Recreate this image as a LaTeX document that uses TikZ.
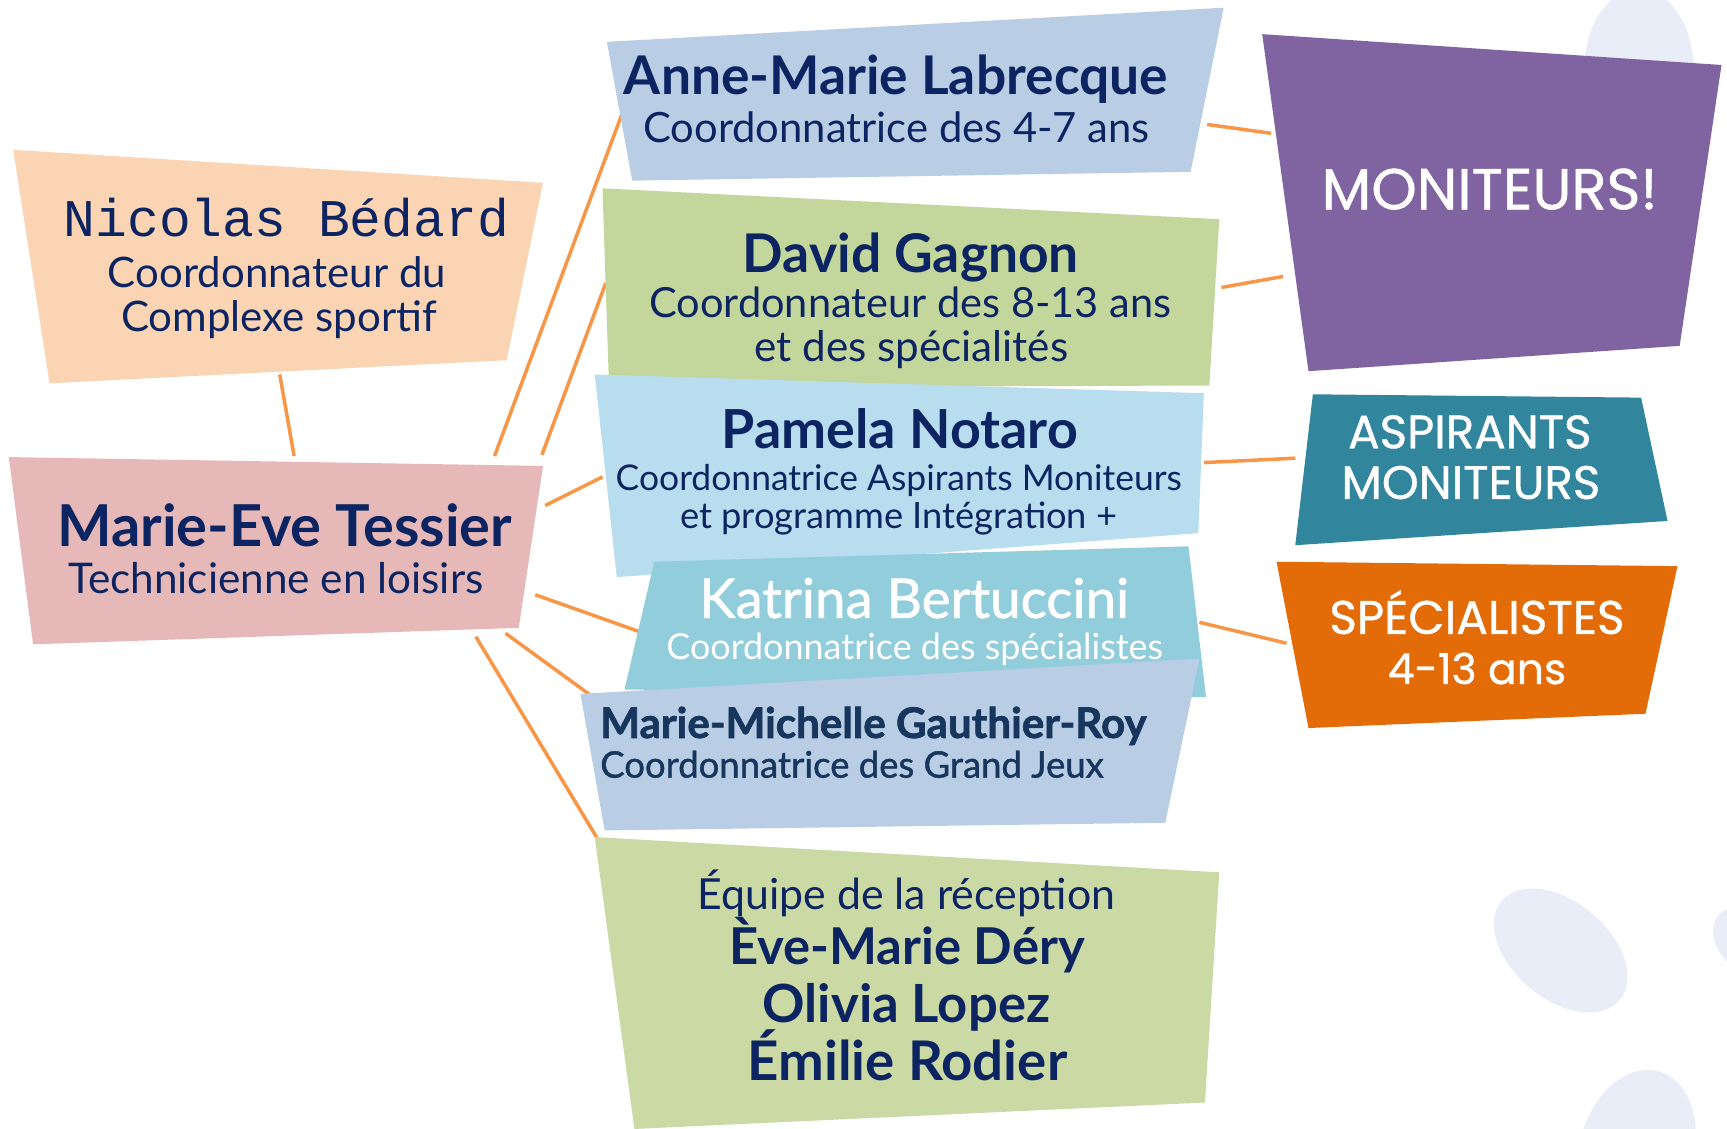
\documentclass[tikz,border=0pt]{standalone}
\usepackage{fontspec}
\setmainfont{Lato}
\newfontfamily\capsfont{Poppins}[UprightFeatures={FakeBold=0.8}]
\newfontfamily\monofont{Liberation Mono}
\newfontfamily\medfont{Lato}[UprightFeatures={FakeBold=1.2}]
\newfontfamily\heavyfont{Lato}[BoldFeatures={FakeBold=1.6}]
\usepackage{graphicx}
\newlength\pxu \setlength\pxu{0.02cm}
\newcommand\fitw[2]{\resizebox{#1\pxu}{!}{#2}}
\definecolor{navy}{HTML}{0C2461}
\definecolor{mmgtext}{HTML}{17365D}
\definecolor{peach}{HTML}{FBD4B4}
\definecolor{pinkc}{HTML}{E6B9B8}
\definecolor{paleblue}{HTML}{B9CDE5}
\definecolor{greenc}{HTML}{C3D69B}
\definecolor{greenl}{HTML}{CBD9A5}
\definecolor{skyc}{HTML}{B7DDEE}
\definecolor{aquac}{HTML}{92CDDC}
\definecolor{purplec}{HTML}{8064A2}
\definecolor{tealc}{HTML}{31859C}
\definecolor{orangec}{HTML}{E36C09}
\definecolor{connc}{HTML}{F79646}
\definecolor{blobc}{HTML}{E8EDF7}
\tikzset{
  conn/.style={draw=connc, line width=1.8pt},
  txt/.style={anchor=base, inner sep=0pt, outer sep=0pt, text=navy},
  ltxt/.style={anchor=base west, inner sep=0pt, outer sep=0pt, text=mmgtext},
  wtxt/.style={anchor=base, inner sep=0pt, outer sep=0pt, text=white},
  blob/.style={fill=blobc},
}
\begin{document}
\begin{tikzpicture}[x=0.02cm,y=-0.02cm]
\useasboundingbox (0,0) rectangle (1568,1025);
\fill[white] (0,0) rectangle (1568,1025);
% background blobs
\begin{scope}
\clip (0,0) rectangle (1568,1025);
\fill[blob] (1488,65) ellipse [x radius=50, y radius=75];
\fill[blob, rotate around={-40:(1417,863)}] (1417,863) ellipse [x radius=70, y radius=44];
\fill[blob, rotate around={-30:(1600,858)}] (1600,858) ellipse [x radius=48, y radius=32];
\fill[blob, rotate around={-15:(1486,1045)}] (1486,1045) ellipse [x radius=52, y radius=75];
\end{scope}

% connector end points
\coordinate (nb1) at (254,340);  \coordinate (me0) at (267,414);
\coordinate (me1) at (449,414);  \coordinate (am1) at (566,100);
\coordinate (me2) at (492,413);  \coordinate (dg1) at (550,257);
\coordinate (me3) at (495,459);  \coordinate (pn1) at (547,433);
\coordinate (me4) at (486,540);  \coordinate (kb1) at (582,574);
\coordinate (me5) at (459,575);  \coordinate (mm1) at (540,634);
\coordinate (me6) at (432,578);  \coordinate (eq1) at (550,774);
\coordinate (am2) at (1096,113); \coordinate (mo1) at (1154,121);
\coordinate (dg2) at (1109,261); \coordinate (mo2) at (1165,251);
\coordinate (pn2) at (1093,420); \coordinate (as1) at (1176,416);
\coordinate (kb2) at (1089,565); \coordinate (sp1) at (1168,584);

\draw[conn] (nb1) -- (me0);
\draw[conn] (me1) -- (am1);
\draw[conn] (me2) -- (dg1);
\draw[conn] (me3) -- (pn1);
\draw[conn] (me4) -- (kb1);
\draw[conn] (me5) -- (mm1);
\draw[conn] (me6) -- (eq1);
\draw[conn] (am2) -- (mo1);
\draw[conn] (dg2) -- (mo2);
\draw[conn] (pn2) -- (as1);
\draw[conn] (kb2) -- (sp1);

% boxes
\fill[peach] (12,136) -- (493,166) -- (460,327) -- (45,348) -- cycle;
\fill[pinkc] (8,415) -- (493,423) -- (471,570) -- (30,585) -- cycle;
\fill[paleblue] (551,38) -- (1111,7) -- (1081,156) -- (574,164) -- cycle;
\fill[greenc] (547,171) -- (1107,199) -- (1098,350) -- (553,352) -- cycle;
\fill[skyc] (540,340) -- (1093,357) -- (1088,484) -- (560,524) -- cycle;
\fill[aquac] (594,510) -- (1079,496) -- (1095,633) -- (567,626) -- cycle;
\fill[paleblue] (527,630) -- (1089,598) -- (1058,747) -- (549,754) -- cycle;
\fill[greenl] (540,760) -- (1107,792) -- (1094,1001) -- (576,1025) -- cycle;
\fill[purplec] (1146,31) -- (1563,59) -- (1525,314) -- (1188,337) -- cycle;
\fill[tealc] (1192,358) -- (1490,361) -- (1514,473) -- (1176,495) -- cycle;
\fill[orangec] (1159,510) -- (1523,514) -- (1494,648) -- (1188,661) -- cycle;

% texts
\node[txt] (nbname) at (260,215) {\fitw{404}{\monofont Nicolas Bédard}};
\node[txt] (nbrole1) at (251.5,261) {\fitw{307}{Coordonnateur du}};
\node[txt] (nbrole2) at (253.5,301) {\fitw{287}{Complexe sportif}};

\node[txt] (mename) at (258.5,496) {\fitw{413}{\bfseries Marie-Eve Tessier}};
\node[txt] (merole) at (250.5,539) {\fitw{377}{Technicienne en loisirs}};

\node[txt] (amname) at (813.5,86) {\fitw{494}{\bfseries Anne-Marie Labrecque}};
\node[txt] (amrole) at (814,129) {\fitw{460}{Coordonnatrice des 4-7 ans}};

\node[txt] (dgname) at (827,247) {\fitw{305}{\bfseries David Gagnon}};
\node[txt] (dgrole1) at (826.5,288) {\fitw{474}{Coordonnateur des 8-13 ans}};
\node[txt] (dgrole2) at (827.5,328) {\fitw{285}{et des spécialités}};

\node[txt] (pnname) at (817,407) {\fitw{323}{\bfseries Pamela Notaro}};
\node[txt] (pnrole1) at (816,445) {\fitw{514}{Coordonnatrice Aspirants Moniteurs}};
\node[txt] (pnrole2) at (816,480) {\fitw{397}{et programme Intégration +}};

\node[wtxt] (kbname) at (830,561) {\fitw{390}{\medfont Katrina Bertuccini}};
\node[wtxt] (kbrole) at (830.5,599) {\fitw{451}{Coordonnatrice des spécialistes}};

\node[ltxt] (mmname) at (545,670) {\fitw{496}{\heavyfont\bfseries Marie-Michelle Gauthier-Roy}};
\node[ltxt] (mmrole) at (545,706) {\fitw{457}{\medfont Coordonnatrice des Grand Jeux}};

\node[txt] (eqtitle) at (823,826) {\fitw{379}{Équipe de la réception}};
\node[txt] (eqn1) at (823.5,876) {\fitw{323}{\bfseries Ève-Marie Déry}};
\node[txt] (eqn2) at (823,928) {\fitw{261}{\bfseries Olivia Lopez}};
\node[txt] (eqn3) at (824,981) {\fitw{290}{\bfseries Émilie Rodier}};

\node[wtxt] (molabel) at (1352.5,190) {\fitw{305}{\capsfont MONITEURS!}};
\node[wtxt] (aslabel1) at (1334.5,407) {\fitw{221}{\capsfont ASPIRANTS}};
\node[wtxt] (aslabel2) at (1335.5,453) {\fitw{235}{\capsfont MONITEURS}};
\node[wtxt] (splabel1) at (1341,575.5) {\fitw{268}{\capsfont SPÉCIALISTES}};
\node[wtxt] (splabel2) at (1341,621) {\fitw{162}{\capsfont 4-13 ans}};
\end{tikzpicture}
\end{document}
